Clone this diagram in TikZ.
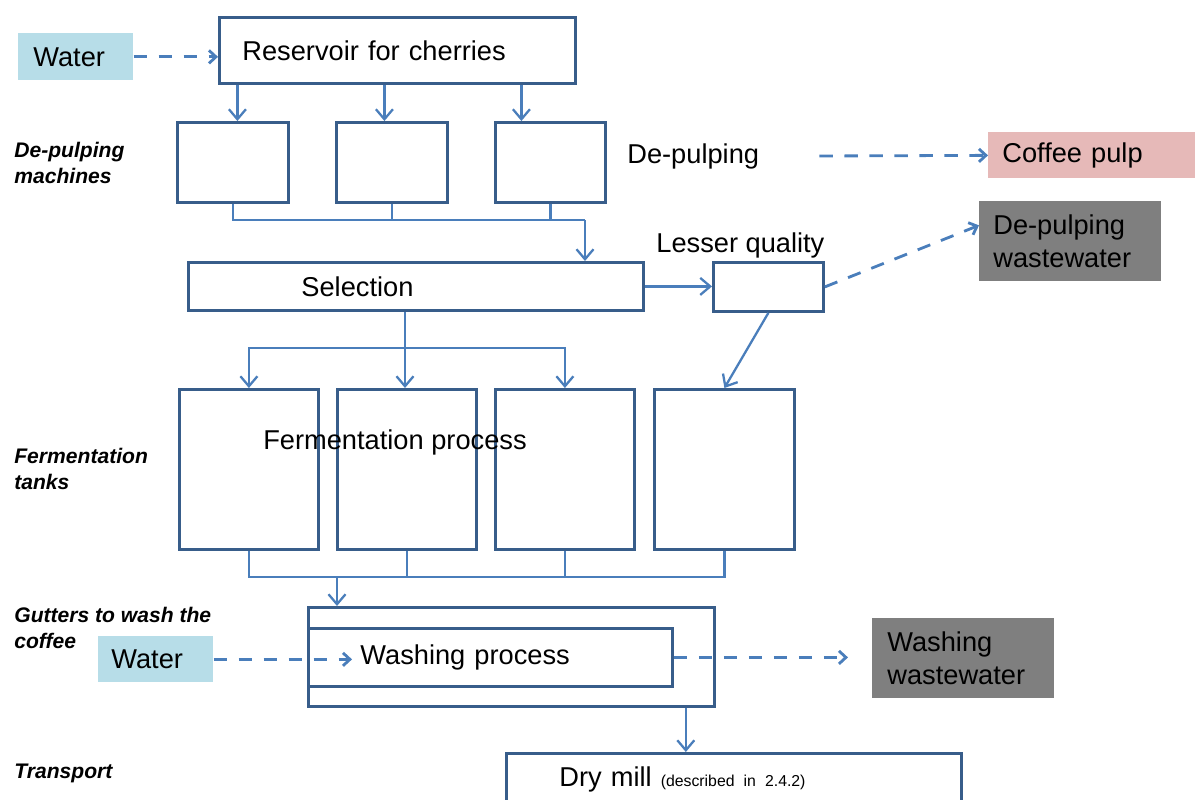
\documentclass[tikz,border=0pt]{standalone}
\usepackage{fontspec}
\setmainfont{Liberation Sans}
\usetikzlibrary{arrows.meta,positioning,calc}
\definecolor{boxblue}{HTML}{385D8A}
\definecolor{lineblue}{HTML}{4A7EBB}
\definecolor{waterblue}{HTML}{B7DDE8}
\definecolor{pulppink}{HTML}{E6B9B8}
\definecolor{wastegray}{HTML}{7F7F7F}

\begin{document}
\begin{tikzpicture}[x=0.2mm, y=-0.2mm, every node/.style={font=\fontsize{15.5}{19}\selectfont}, box/.style={draw=boxblue, line width=1.6pt, anchor=north west, inner sep=0pt}, txtbox/.style={box, align=left, inner ysep=0pt}, fillbox/.style={anchor=north west, inner ysep=0pt, align=left}, lab/.style={anchor=west, inner sep=0pt, align=left, font=\fontsize{12}{15.3}\selectfont\bfseries\itshape}, link/.style={draw=lineblue, line width=1.3pt}, arr/.style={link, -{Straight Barb[length=2mm,width=3.4mm]}}, dasharr/.style={link, line width=1.6pt, dash pattern=on 2.7mm off 2.3mm, -{Straight Barb[length=1.4mm,width=2.6mm]}}]
			\useasboundingbox (0,0) rectangle (1195,799);
			\clip (0,0) rectangle (1195,799);

			% reservoir and de-pulping
			\node[fillbox, fill=waterblue, minimum height=9.4mm, inner xsep=3mm, text width=17mm] (water1) at (18,33) {Water};
			\node[txtbox, minimum height=13.2mm, inner xsep=4.6mm, text width=62mm] (res) at (218,16) {Reservoir for cherries};
			\node[box, minimum width=22.2mm, minimum height=16mm] (dp1) at (176,121) {};
			\node[box, minimum width=22.2mm, minimum height=16mm] (dp2) at (335,121) {};
			\node[box, minimum width=22mm, minimum height=16mm] (dp3) at (494,121) {};
			\node[anchor=west, inner sep=0pt] (dptext) at (627,156) {De-pulping};
			\coordinate[right=12mm of dptext] (dpout);
			\node[fillbox, fill=pulppink, minimum height=9.2mm, inner xsep=2.8mm, text width=35.8mm] (pulp) at (988,132) {Coffee pulp};

			% selection
			\node[txtbox, minimum height=9.6mm, inner xsep=22.6mm, text width=45.8mm] (sel) at (187,261) {Selection};
			\node[box, minimum width=22mm, minimum height=9.8mm] (lesser) at (712,261) {};
			\node[anchor=west, inner sep=0pt] (lessertext) at (656,245) {Lesser quality};
			\node[fillbox, fill=wastegray, minimum height=16mm, inner xsep=2.8mm, text width=30.8mm] (dpww) at (979,201) {De-pulping\\wastewater};

			% fermentation tanks
			\node[box, minimum width=27.8mm, minimum height=32mm] (ft1) at (178,388) {};
			\node[box, minimum width=27.8mm, minimum height=32mm] (ft2) at (336,388) {};
			\node[box, minimum width=27.8mm, minimum height=32mm] (ft3) at (494,388) {};
			\node[box, minimum width=28mm, minimum height=32mm] (ft4) at (653,388) {};
			\node (ferm) at (395,442) {Fermentation process};

			% washing
			\node[box, minimum width=81.2mm, minimum height=19.8mm] (wash) at (307,606) {};
			\node[txtbox, minimum height=11.6mm, inner xsep=10.4mm, text width=52mm] (washin) at (307,627) {Washing process};
			\node[fillbox, fill=waterblue, minimum height=9.2mm, inner xsep=2.6mm, text width=17.8mm] (water2) at (98,636) {Water};
			\node[fillbox, fill=wastegray, minimum height=16mm, inner xsep=3mm, text width=30.4mm] (wwater) at (872,618) {Washing\\wastewater};

			% dry mill
			\node[txtbox, minimum height=10.4mm, inner xsep=10.6mm, text width=69.8mm] (dry) at (505,752) {Dry mill {\fontsize{9}{11}\selectfont (described in 2.4.2)}};

			% side labels
			\node[lab] (labdp) at (14,163) {De-pulping\\machines};
			\node[lab] (labft) at (14,469) {Fermentation\\tanks};
			\node[lab] (labgut) at (14,628) {Gutters to wash the\\coffee};
			\node[lab] (labtr) at (14,773) {Transport};

			% connectors
			\draw[dasharr] (water1.east) -- (water1.east -| res.west);
			\draw[arr] ([xshift=0.9mm]dp1.north |- res.south) -- ([xshift=0.9mm]dp1.north);
			\draw[arr] ([xshift=-1.5mm]dp2.north |- res.south) -- ([xshift=-1.5mm]dp2.north);
			\draw[arr] ([xshift=-5.8mm]dp3.north |- res.south) -- ([xshift=-5.8mm]dp3.north);

			\coordinate (dpjoin) at (585,220);
			\draw[link] (dp1.south) |- (dpjoin);
			\draw[link] (dp2.south) -- (dp2.south |- dpjoin);
			\draw[link] (dp3.south) -- (dp3.south |- dpjoin);
			\draw[arr] (dpjoin) -- (dpjoin |- sel.north);
			\draw[dasharr] (dpout) -- (pulp.west);

			\draw[arr] (sel.east) -- (sel.east -| lesser.west);
			\draw[dasharr] (lesser.east) -- ([yshift=3.2mm]dpww.west);

			\coordinate (selsplit) at (405,348);
			\draw[arr] (sel.south -| selsplit) -- (selsplit |- ft2.north);
			\draw[arr] (selsplit) -| (ft1.north);
			\draw[arr] (selsplit) -| (ft3.north);
			\draw[arr] (lesser.south) -- (ft4.north);

			\coordinate (ftjoin) at (337,577);
			\draw[link] (ft1.south) |- (ft4.south |- ftjoin) -- (ft4.south);
			\draw[link] (ft2.south) -- (ft2.south |- ftjoin);
			\draw[link] (ft3.south) -- (ft3.south |- ftjoin);
			\draw[arr] (ftjoin) -- (ftjoin |- wash.north);

			\draw[dasharr] (water2.east) -- ([xshift=9mm]washin.west |- water2.east);
			\draw[dasharr] (washin.east) -- ([xshift=-4.8mm]wwater.west |- washin.east);
			\draw[arr] ([xshift=-6mm]wash.south east) -- ([xshift=-6mm]wash.south east |- dry.north);
		\end{tikzpicture}
\end{document}
